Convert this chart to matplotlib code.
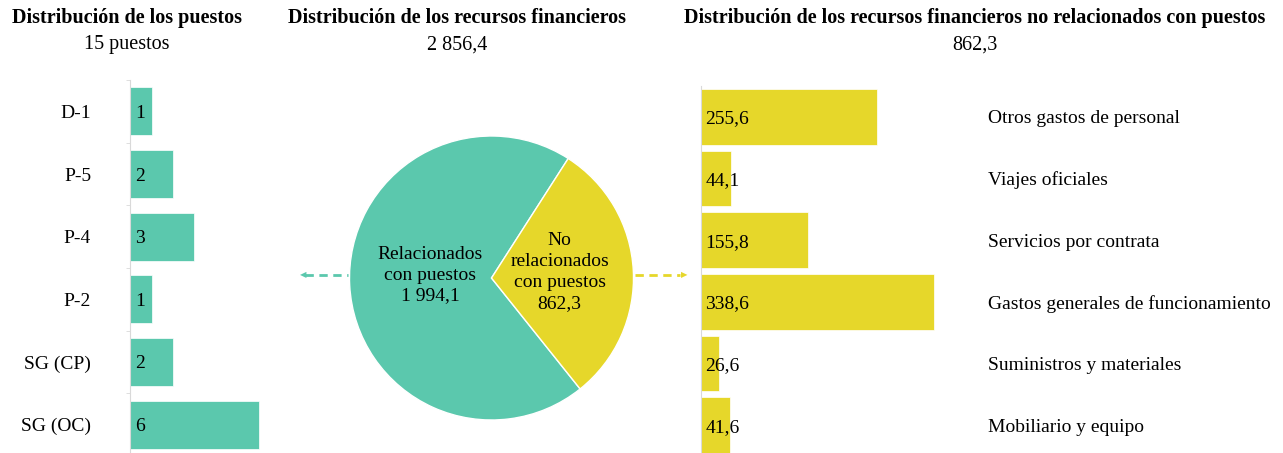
import matplotlib.pyplot as plt
import numpy as np

# data
grades = ["D-1", "P-5", "P-4", "P-2", "SG (CP)", "SG (OC)"]
posts = [1, 2, 3, 1, 2, 6]

pie_names = ["Relacionados\ncon puestos", "No\nrelacionados\ncon puestos"]
pie_values = [1994.1, 862.3]

nonpost_items = ["Otros gastos de personal", "Viajes oficiales", "Servicios por contrata",
                 "Gastos generales de funcionamiento", "Suministros y materiales",
                 "Mobiliario y equipo"]
nonpost_values = [255.6, 44.1, 155.8, 338.6, 26.6, 41.6]

teal = "#5BC8AD"
yellow = "#E6D72A"
spine_grey = "#D9D9D9"

plt.rcParams['font.family'] = ['Liberation Serif', 'DejaVu Serif']

def fmt(v):
    # 2856.4 -> "2 856,4"
    s = f"{v:,.1f}"
    return s.replace(",", " ").replace(".", ",")

W, H = 1283, 453
fig = plt.figure(figsize=(W/100, H/100), dpi=100)

def px_axes(left, top, width, height):
    return fig.add_axes([left/W, 1-(top+height)/H, width/W, height/H])

# titles
tsize = 14.5
fig.text(127/W, 1-18/H, "Distribución de los puestos", ha='center', va='center',
         fontsize=tsize, fontweight='bold')
fig.text(127/W, 1-45/H, f"{sum(posts)} puestos", ha='center', va='center', fontsize=tsize)
fig.text(457/W, 1-18/H, "Distribución de los recursos financieros", ha='center', va='center',
         fontsize=tsize, fontweight='bold')
fig.text(457/W, 1-45/H, fmt(sum(pie_values)), ha='center', va='center', fontsize=tsize)
fig.text(975/W, 1-18/H, "Distribución de los recursos financieros no relacionados con puestos",
         ha='center', va='center', fontsize=tsize, fontweight='bold')
fig.text(975/W, 1-45/H, fmt(sum(nonpost_values)), ha='center', va='center', fontsize=tsize)

# left: posts by grade
ax1 = px_axes(130, 80, 200, 376)
y1 = np.arange(len(grades))
ax1.barh(y1, posts, height=0.77, color=teal, edgecolor='white', linewidth=0.5)
ax1.set_ylim(len(grades)-0.5, -0.5)
ax1.set_xlim(0, 200/21.5)
for s in ['top', 'right', 'bottom']:
    ax1.spines[s].set_visible(False)
ax1.spines['left'].set_color(spine_grey)
ax1.set_xticks([])
ax1.set_yticks(y1)
ax1.set_yticklabels(grades, fontsize=14)
ax1.tick_params(axis='y', which='major', length=0, pad=28)
ax1.set_yticks(np.arange(len(grades)+1)-0.5, minor=True)
ax1.tick_params(axis='y', which='minor', length=3, color=spine_grey)
for yy, v in zip(y1, posts):
    ax1.annotate(str(v), (0, yy), xytext=(4, 0), textcoords='offset points',
                 ha='left', va='center_baseline', fontsize=14)

# middle: pie
ax2 = px_axes(349.5, 136, 284, 284)
ax2.pie(pie_values, colors=[teal, yellow], startangle=57.3, counterclock=True,
        wedgeprops=dict(edgecolor='white', linewidth=1))
ax2.set_xlim(-1, 1)
ax2.set_ylim(-1, 1)
ax2.text(-0.43, 0.02, f"{pie_names[0]}\n{fmt(pie_values[0])}", ha='center', va='center',
         fontsize=14, linespacing=1.3)
ax2.text(0.48, 0.04, f"{pie_names[1]}\n{fmt(pie_values[1])}", ha='center', va='center',
         fontsize=14, linespacing=1.3)

# connecting arrows
fig.add_artist(plt.Line2D([305/W, 348/W], [1-275/H]*2, color=teal, lw=2, ls=(0, (3, 2))))
fig.add_artist(plt.Line2D([635/W, 680/W], [1-275/H]*2, color=yellow, lw=2, ls=(0, (3, 2))))
fig.text(303/W, 1-275/H, "◀", color=teal, fontsize=6, ha='center', va='center',
         family='DejaVu Sans')
fig.text(684/W, 1-275/H, "▶", color=yellow, fontsize=6, ha='center', va='center',
         family='DejaVu Sans')

# right: non-post resources
ax3 = px_axes(701, 86, 280, 370)
y3 = np.arange(len(nonpost_items))
ax3.barh(y3, nonpost_values, height=0.9, color=yellow, edgecolor='white', linewidth=0.5)
ax3.set_ylim(len(nonpost_items)-0.5, -0.5)
ax3.set_xlim(0, 280/0.689)
for s in ['top', 'right', 'bottom']:
    ax3.spines[s].set_visible(False)
ax3.spines['left'].set_color(spine_grey)
ax3.set_xticks([])
ax3.yaxis.tick_right()
ax3.set_yticks(y3)
ax3.set_yticklabels(nonpost_items, fontsize=14)
ax3.tick_params(axis='y', length=0, pad=5)
for yy, v in zip(y3, nonpost_values):
    ax3.annotate(fmt(v), (0, yy), xytext=(3, 0), textcoords='offset points',
                 ha='left', va='center_baseline', fontsize=14)

fig.savefig("out.png", dpi=100)
